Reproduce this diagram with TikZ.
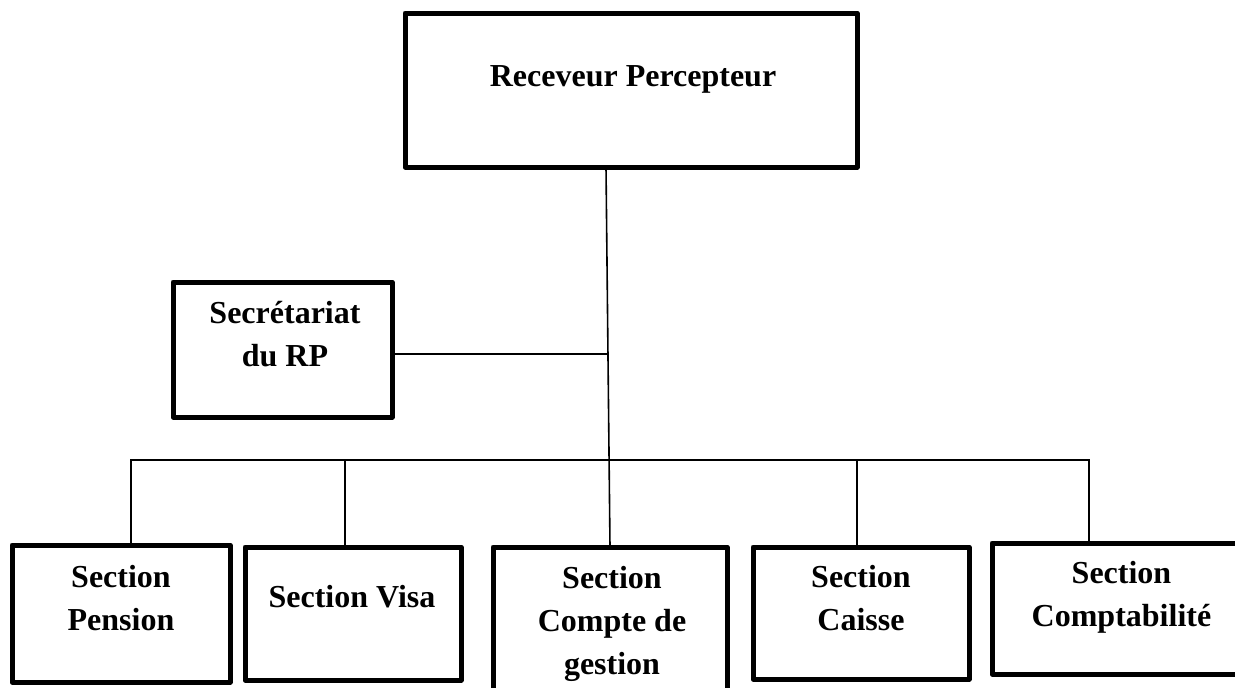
\documentclass[tikz,border=0pt]{standalone}
\usepackage{fontspec}
\setmainfont{Liberation Serif}
\begin{document}
\begin{tikzpicture}[x=1pt,y=-1pt,
  box/.style={draw, line width=5pt, line join=round, inner sep=0pt, outer sep=0pt},
  lbl/.style={align=center, font=\bfseries\fontsize{32}{43}\selectfont, inner sep=0pt},
  conn/.style={line width=1.6pt}]
\clip (0,0) rectangle (1235,688);
\fill[white] (0,0) rectangle (1235,688);
% boxes
\node[box, minimum width=452pt, minimum height=154pt] (top) at (631,90) {};
\node[box, minimum width=219pt, minimum height=135pt] (sec) at (282.5,349.5) {};
\node[box, minimum width=218pt, minimum height=137pt] (pension) at (121,613.5) {};
\node[box, minimum width=216pt, minimum height=133pt] (visa) at (353,613.5) {};
\node[box, minimum width=234pt, minimum height=156pt] (compte) at (610,625) {};
\node[box, minimum width=216pt, minimum height=132pt] (caisse) at (861,613) {};
\node[box, minimum width=259pt, minimum height=131pt] (compta) at (1121.5,608.5) {};
% labels
\node[lbl] (topT) at (633,79) {Receveur Percepteur};
\node[lbl] (secT) at (285,334) {Secrétariat\\du RP};
\node[lbl] (pensionT) at (121,598.5) {Section\\Pension};
\node[lbl] (visaT) at (352,597) {Section Visa};
\node[lbl] (compteT) at (612,623.5) {Section\\Compte de\\gestion};
\node[lbl] (caisseT) at (861,598) {Section\\Caisse};
\node[lbl] (comptaT) at (1121.5,597) {Section\\Comptabilité};
% connectors
\coordinate (bus) at (0,460);
\coordinate (j1) at (609,354);
\draw[conn] ([xshift=-25pt]top.south) -- (compte.north);
\draw[conn] (sec.east |- j1) -- (j1);
\draw[conn] ([xshift=10pt]pension.north) -- ([xshift=10pt]pension.north |- bus)
  -- ([xshift=-32.5pt]compta.north |- bus) -- ([xshift=-32.5pt]compta.north);
\draw[conn] ([xshift=-8pt]visa.north) -- ([xshift=-8pt]visa.north |- bus);
\draw[conn] ([xshift=-4pt]caisse.north) -- ([xshift=-4pt]caisse.north |- bus);
\end{tikzpicture}
\end{document}
